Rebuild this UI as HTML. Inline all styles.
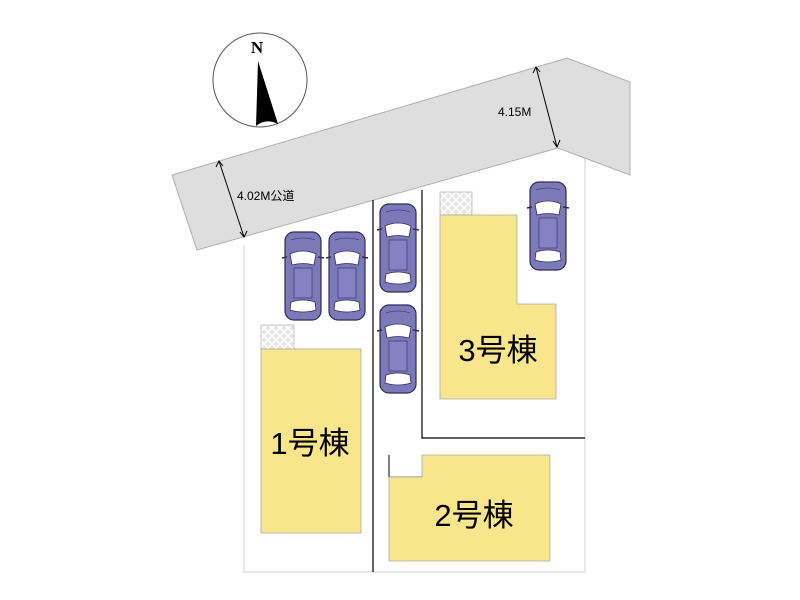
<!DOCTYPE html>
<html><head><meta charset="utf-8"><style>
html,body{margin:0;padding:0;background:#fff;}
svg{display:block;}
text{font-family:"Liberation Sans","Noto Sans CJK JP",sans-serif;}
text.serif{font-family:"Liberation Serif",serif;}
</style></head><body>
<svg width="800" height="600" viewBox="0 0 800 600" xmlns="http://www.w3.org/2000/svg">
<defs>
<pattern id="hatch" width="8" height="8" patternUnits="userSpaceOnUse">
<rect width="8" height="8" fill="#e6e6e6"/>
<path d="M0 0L8 8M8 0L0 8" stroke="#fff" stroke-width="1.5"/>
</pattern>
<g id="car">
<rect x="0" y="0" width="36" height="88" rx="9" fill="#7c79b8" stroke="#2e2c5c" stroke-width="1.2"/>
<path d="M5 22 Q18 16 31 22 L29 33 Q18 30 7 33 Z" fill="#fff" stroke="#2e2c5c" stroke-width="0.8"/>
<path d="M6 70 Q18 66 30 70 L31 78 Q18 82 5 78 Z" fill="#fff" stroke="#2e2c5c" stroke-width="0.8"/>
<rect x="9" y="36" width="18" height="30" fill="#8582c4" stroke="#2e2c5c" stroke-width="0.6"/>
<path d="M-3 26 L2 25 M33 25 L39 26" stroke="#2e2c5c" stroke-width="1.5"/>
<path d="M6 8 Q18 4 30 8" fill="none" stroke="#2e2c5c" stroke-width="0.6"/>
</g>
</defs>
<path d="M244 245 L244 572 L585 572 L585 158" fill="none" stroke="#d0d0d0" stroke-width="1"/>
<polygon points="172,175 567,58 630,82 630,175 558,148 197,250" fill="#dedede" stroke="#b0b0b0" stroke-width="1"/>
<path d="M373 200 L373 572" stroke="#000" stroke-width="1.2"/>
<path d="M422 190 L422 438 L585 438" fill="none" stroke="#000" stroke-width="1.2"/>
<path d="M389 455 L389 477 L422 477" fill="none" stroke="#000" stroke-width="1"/>
<rect x="261" y="325" width="33" height="24" fill="url(#hatch)" stroke="#bbb" stroke-width="0.8"/>
<rect x="261" y="349" width="100" height="184" fill="#f8e58c" stroke="#aaa" stroke-width="0.8"/>
<rect x="440" y="192" width="32" height="23" fill="url(#hatch)" stroke="#bbb" stroke-width="0.8"/>
<polygon points="440,215 517,215 517,304 556,304 556,399 440,399" fill="#f8e58c" stroke="#aaa" stroke-width="0.8"/>
<polygon points="422,455 550,455 550,561 389,561 389,477 422,477" fill="#f8e58c" stroke="#aaa" stroke-width="0.8"/>
<text x="310" y="454" font-size="31" text-anchor="middle" fill="#000">1号棟</text>
<text x="498" y="361" font-size="31" text-anchor="middle" fill="#000">3号棟</text>
<text x="474" y="526" font-size="31" text-anchor="middle" fill="#000">2号棟</text>
<use href="#car" transform="translate(285,232)"/>
<use href="#car" transform="translate(329,232)"/>
<use href="#car" transform="translate(380,204)"/>
<use href="#car" transform="translate(380,305)"/>
<use href="#car" transform="translate(530,182)"/>
<g stroke="#000" stroke-width="1" fill="none">
<path d="M219 161 L244 237"/>
<path d="M216 167 L219 161 L223 166"/>
<path d="M240 232 L244 237 L247 231"/>
<path d="M536 67 L557 147"/>
<path d="M533 73 L536 67 L540 72"/>
<path d="M553 141 L557 147 L560 140"/>
</g>
<text x="237" y="200" font-size="12" fill="#000">4.02M公道</text>
<text x="498" y="116" font-size="12" fill="#000">4.15M</text>
<circle cx="260" cy="80" r="47" fill="#fff" stroke="#555" stroke-width="1"/>
<text class="serif" x="257" y="53" font-size="17" font-weight="bold" text-anchor="middle">N</text>
<path d="M258 61 L256 126 Q266 118 278 124 Z" fill="#000"/>
</svg>
</body></html>
